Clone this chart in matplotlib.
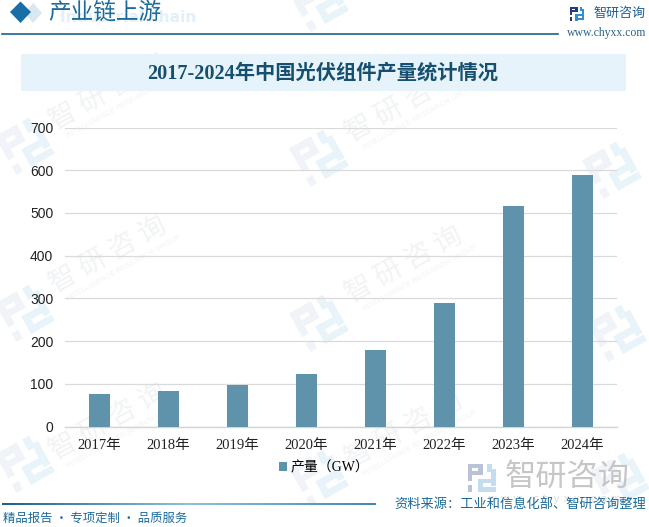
import matplotlib
matplotlib.use('Agg')
import matplotlib.pyplot as plt
from matplotlib.patches import Polygon, Rectangle
from matplotlib.transforms import Affine2D
import numpy as np

W, H = 649, 527
years = ['2017年', '2018年', '2019年', '2020年', '2021年', '2022年', '2023年', '2024年']
output_gw = [75, 84, 98, 124, 180, 288, 517, 588]
y_ticks = [0, 100, 200, 300, 400, 500, 600, 700]
chart_title = '2017-2024年中国光伏组件产量统计情况'
series_name = '产量（GW）'
header_text = '产业链上游'
header_en = 'Industrial chain'
brand = '智研咨询'
brand_spaced = '智 研 咨 询'
brand_url = 'www.chyxx.com'
wm_url = 'w w w . c h y x x . c o m'
wm_en = 'INTELLIGENCE RESEARCH GROUP'
source_text = '资料来源：工业和信息化部、智研咨询整理'
footer_text = '精品报告 · 专项定制 · 品质服务'
wm_text_centers = [(108, 92), (404, 104), (108, 255), (404, 265), (108, 422), (404, 430)]
wm_logo_centers = [(319, 2), (25, 145), (319, 157), (612, 169), (25, 312), (319, 322), (617, 332),
                   (25, 463), (319, 477), (620, 480)]

CJK = ['Noto Sans CJK SC', 'DejaVu Sans']
SERIF = ['Liberation Serif', 'Noto Sans CJK SC']
plt.rcParams['font.family'] = CJK

fig = plt.figure(figsize=(W / 100, H / 100), dpi=100, facecolor='white')

bg = fig.add_axes([0, 0, 1, 1], zorder=0)
bg.set_xlim(0, W)
bg.set_ylim(H, 0)
bg.axis('off')


def logo(ax, cx, cy, s, c1, c2, rot=0, alpha=1.0, z=1):
    x, y = cx - s / 2, cy - s / 2
    tr = Affine2D().rotate_deg_around(cx, cy, rot) + ax.transData
    parts = [(0, 0, .56, .17, c1), (.39, 0, .17, .42, c1), (.17, .27, .25, .15, c1),
             (0, 0, .17, .62, c1), (0, .78, .17, .22, c1),
             (.7, 0, .18, .3, c2), (.83, .2, .17, .6, c2), (.38, .55, .5, .16, c2),
             (.38, .55, .16, .45, c2), (.38, .84, .62, .16, c2)]
    for px, py, pw, ph, c in parts:
        ax.add_patch(Rectangle((x + px * s, y + py * s), pw * s, ph * s, fc=c, ec='none',
                               alpha=alpha, transform=tr, zorder=z))


# faint repeating watermark
for cx, cy in wm_text_centers:
    bg.text(cx, cy, brand_spaced, fontsize=20, color='#f1f3f5', rotation=29, ha='center', va='center',
            rotation_mode='anchor', zorder=1)
    bg.text(cx + 16, cy + 13, wm_en, fontsize=5.5, color='#f1f3f5', rotation=29, ha='center', va='center',
            rotation_mode='anchor', zorder=1, family=['Liberation Sans'])
for cx, cy in wm_logo_centers:
    logo(bg, cx, cy, 44, '#f0f4f8', '#e9f4fa', rot=-29)

# header
bg.add_patch(Polygon([[25, 13], [33, 3], [42, 13], [33, 23]], fc='#d9e7f0', ec='none', zorder=2))
bg.add_patch(Polygon([[10, 12], [20.5, 1.5], [31, 12], [20.5, 23]], fc='#1a6ea8', ec='none', zorder=3))
bg.text(60, 17, header_en, fontsize=11.2, color='#e3f0f9', weight='bold', va='center', zorder=2,
        family=['DejaVu Sans'])
bg.text(48, 12.5, header_text, fontsize=16.3, color='#1c6a99', va='center', zorder=3)
bg.plot([2, 558], [33.5, 33.5], color='#1a6288', lw=1.2, zorder=3)

logo(bg, 577, 13.5, 14, '#253a80', '#2f8fd0', z=3)
bg.text(593, 13.5, brand, fontsize=9.4, color='#1f5f8f', va='center', zorder=3)
bg.text(567, 33, brand_url, fontsize=8.5, color='#2c6288', va='center', zorder=3, family=['Liberation Serif'])

# title band
bg.add_patch(Rectangle((21, 54), 605, 37, fc='#e6f3fb', ec='none', zorder=2))
bg.text(323, 74, chart_title, fontsize=14.6, weight='bold', color='#17506f', ha='center', va='center',
        zorder=3, family=SERIF)

# chart
left, right, top, bottom = 65, 617, 127.5, 426.5
ax = fig.add_axes([left / W, 1 - bottom / H, (right - left) / W, (bottom - top) / H], zorder=2)
ax.patch.set_alpha(0)
x = np.arange(len(years))
ax.bar(x, output_gw, width=0.305, color='#5f93ab', zorder=3, label=series_name)
ax.set_xlim(-0.5, len(years) - 0.5)
ax.set_ylim(0, 700)
ax.set_yticks(y_ticks)
ax.set_yticklabels([str(v) for v in y_ticks], fontsize=10, color='#222222', family=['Liberation Sans'])
ax.set_xticks(x)
ax.set_xticklabels(years, fontsize=10.5, color='#222222', family=SERIF)
ax.tick_params(axis='both', length=0)
ax.tick_params(axis='x', pad=9)
ax.tick_params(axis='y', pad=8.5)
ax.grid(axis='y', color='#dadada', lw=0.9, zorder=0)
ax.set_axisbelow(True)
for s in ['top', 'left', 'right']:
    ax.spines[s].set_visible(False)
ax.spines['bottom'].set_color('#d4d4d4')
ax.spines['bottom'].set_linewidth(1.0)

ax.legend(loc='center', bbox_to_anchor=((324 - left) / (right - left), -(468 - bottom) / (bottom - top)),
          frameon=False, handlelength=0.6, handleheight=0.6, handletextpad=0.25,
          prop={'family': SERIF, 'size': 10})

# lower-right brand watermark
logo(bg, 481.5, 477.5, 28, '#b9c2d6', '#c3dcee', z=2)
bg.text(567.5, 477, brand, fontsize=22.5, color='#c6c6c6', ha='center', va='center', zorder=2)
bg.text(555, 499, wm_url, fontsize=8, color='#dedede', ha='center', va='center', zorder=1,
        family=['DejaVu Sans'])

# footer
grad = np.linspace(0, 1, 256).reshape(1, -1)
cmap = matplotlib.colors.LinearSegmentedColormap.from_list('f', ['#1a6288', '#8fc0dc', '#3f8ab5'])
bg.imshow(grad, extent=(2, 376, 505, 503.5), aspect='auto', cmap=cmap, zorder=3)
bg.set_xlim(0, W)
bg.set_ylim(H, 0)
bg.text(3, 518, footer_text, fontsize=8.9, color='#1c6a99', va='center', zorder=3)
bg.text(394, 504, source_text, fontsize=9.5, color='#1c6a99', va='center', zorder=3)

fig.savefig('out.png', dpi=100)
